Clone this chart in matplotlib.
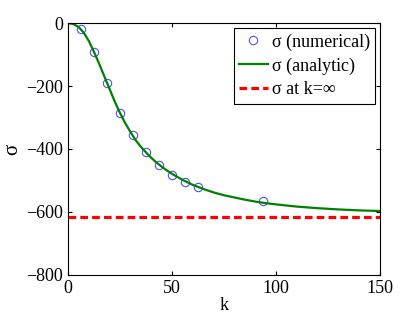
import numpy as np
import matplotlib
matplotlib.use('Agg')
import matplotlib.pyplot as plt

plt.rcParams['font.family'] = ['Liberation Serif', 'DejaVu Serif']
plt.rcParams['mathtext.fontset'] = 'stix'

# valores
k_num = [6.25, 12.5, 18.75, 25, 31.25, 37.5, 43.75, 50, 56.25, 62.5, 93.75]
sigma_num = [-18, -93, -191, -285, -357, -410, -452, -483, -506, -522, -566]

k_an = [0, 2.5, 5, 7.5, 10, 12.5, 15, 17.5, 20, 22.5, 25, 27.5, 30, 32.5, 35,
        37.5, 40, 42.5, 45, 47.5, 50, 55, 60, 65, 70, 75, 80, 85, 90, 95,
        100, 110, 120, 130, 140, 150]
sigma_an = [0, -3, -12, -30, -57, -92, -130, -170, -210, -250, -286, -318,
            -346, -372, -393, -411, -428, -443, -456, -468, -479, -498, -514,
            -527, -538, -547, -554, -561, -567, -572, -576, -583, -588, -592,
            -595, -597]

sigma_inf = -615

fig = plt.figure(figsize=(4.2, 3.16), dpi=100)
ax = fig.add_axes([0.162, 0.130, 0.743, 0.797])

ax.plot(k_num, sigma_num, 'o', mfc='none', mec='#5050ff', mew=0.8, ms=6,
        label='σ (numerical)')
ax.plot(k_an, sigma_an, '-', color='#008000', lw=1.6, label='σ (analytic)')
ax.axhline(sigma_inf, color='#ff0000', ls='--', lw=2.3, dashes=(2.4, 1.3),
           label='σ at k=∞')

ax.set_xlim(0, 150)
ax.set_ylim(-800, 0)
ax.set_xticks([0, 50, 100, 150])
ax.set_yticks([-800, -600, -400, -200, 0])
ax.set_yticklabels(['\u2212800', '\u2212600', '\u2212400', '\u2212200', '0'])
ax.tick_params(direction='in', top=True, right=True, labelsize=13, length=3)
ax.set_xlabel('k', fontsize=13, labelpad=0)
ax.set_ylabel('σ', fontsize=15, labelpad=3)

leg = ax.legend(loc='upper right', fontsize=13, fancybox=False, framealpha=1,
                edgecolor='black', handlelength=1.6, handletextpad=0.2,
                borderpad=0.3, labelspacing=0.36, borderaxespad=0.28)
leg.get_frame().set_linewidth(0.8)

fig.savefig('out.png', dpi=100)
